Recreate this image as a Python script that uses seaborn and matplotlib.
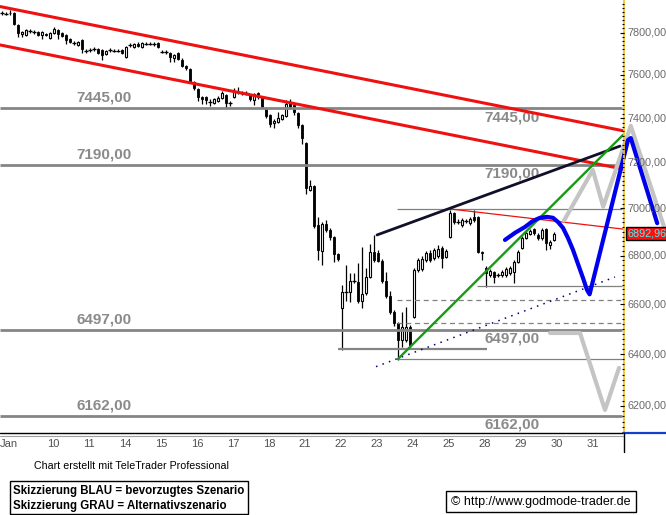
import numpy as np
import pandas as pd
import matplotlib
matplotlib.use("Agg")
import matplotlib.pyplot as plt
import matplotlib.transforms as mtransforms
from matplotlib.patches import Rectangle
from matplotlib.lines import Line2D
import seaborn as sns

# hourly candles, 9 per trading day (index 0-2 = end of Jan 8)
opens = [7895, 7890, 7895, 7895, 7837, 7794, 7789, 7808, 7803, 7803, 7789, 7794,
         7775, 7799, 7813, 7799, 7789, 7770, 7751, 7741, 7765,
         7713, 7717, 7722, 7722, 7717, 7698, 7717, 7713, 7713,
         7717, 7684, 7741, 7732, 7746, 7732, 7746, 7746, 7746,
         7751, 7708, 7708, 7703, 7679, 7703, 7670, 7642, 7628,
         7567, 7534, 7497, 7497, 7474, 7470, 7479, 7493, 7507,
         7470, 7497, 7520, 7516, 7516, 7507, 7483, 7516, 7497,
         7447, 7415, 7378, 7383, 7397, 7410, 7474, 7460, 7424,
         7369, 7288, 7080, 7098, 6930, 6820, 6934, 6908, 6878,
         6807, 6585, 6650, 6650, 6695, 6691, 6613, 6646, 6711,
         6815, 6811, 6778, 6695, 6633, 6568, 6524, 6456, 6456,
         6508, 6548, 6740, 6745, 6782, 6811, 6790, 6799, 6832,
         6795, 6878, 6981, 6942, 6930, 6947, 6938, 6964, 6964,
         6815, 6749, 6720, 6732, 6720, 6720, 6720, 6728, 6732,
         6774, 6832, 6874, 6891, 6912, 6887, 6874, 6912, 6845,
         6866]
closes = [7895, 7890, 7893, 7842, 7799, 7803, 7813, 7808, 7803, 7789, 7803, 7789,
          7799, 7818, 7794, 7784, 7765, 7756, 7751, 7756, 7722,
          7713, 7717, 7722, 7703, 7694, 7713, 7717, 7713, 7713,
          7703, 7732, 7741, 7746, 7736, 7751, 7746, 7746, 7746,
          7732, 7708, 7708, 7684, 7694, 7675, 7642, 7632, 7567,
          7539, 7497, 7488, 7483, 7474, 7488, 7493, 7516, 7470,
          7470, 7520, 7520, 7516, 7516, 7488, 7511, 7497, 7451,
          7410, 7374, 7387, 7401, 7415, 7465, 7451, 7428, 7369,
          7310, 7089, 7098, 6925, 6824, 6934, 6908, 6878, 6807,
          6786, 6650, 6650, 6695, 6695, 6613, 6642, 6711, 6815,
          6782, 6778, 6695, 6634, 6568, 6524, 6456, 6508, 6508,
          6436, 6740, 6782, 6786, 6811, 6782, 6824, 6828, 6790,
          6820, 6981, 6942, 6942, 6951, 6947, 6955, 6951, 6815,
          6811, 6728, 6736, 6711, 6720, 6732, 6745, 6749, 6774,
          6815, 6874, 6896, 6904, 6896, 6874, 6908, 6853, 6857,
          6893]
highs = [7905, 7900, 7910, 7900, 7842, 7808, 7818, 7818, 7813, 7808, 7808, 7799,
         7803, 7828, 7818, 7803, 7794, 7775, 7760, 7760, 7770,
         7722, 7727, 7732, 7727, 7722, 7717, 7727, 7722, 7722,
         7722, 7736, 7751, 7751, 7756, 7756, 7756, 7756, 7756,
         7756, 7717, 7717, 7708, 7698, 7708, 7679, 7646, 7632,
         7571, 7539, 7502, 7502, 7488, 7493, 7502, 7525, 7511,
         7479, 7539, 7544, 7525, 7525, 7511, 7516, 7520, 7502,
         7451, 7419, 7397, 7428, 7419, 7483, 7488, 7470, 7428,
         7374, 7293, 7124, 7102, 6964, 6942, 6951, 6917, 6883,
         6811, 6678, 6761, 6728, 6728, 6770, 6836, 6749, 6849,
         6887, 6824, 6786, 6732, 6654, 6576, 6528, 6568, 6589,
         6516, 6749, 6790, 6799, 6820, 6824, 6832, 6845, 6841,
         6828, 6994, 6985, 6955, 6960, 6955, 6964, 6994, 6968,
         6820, 6757, 6745, 6736, 6728, 6740, 6753, 6757, 6782,
         6824, 6883, 6904, 6912, 6917, 6896, 6917, 6917, 6866,
         6900]
lows = [7885, 7885, 7885, 7837, 7779, 7779, 7784, 7799, 7794, 7784, 7770, 7784,
        7770, 7794, 7770, 7779, 7746, 7751, 7741, 7736, 7703,
        7703, 7708, 7713, 7698, 7670, 7694, 7708, 7708, 7708,
        7698, 7679, 7732, 7727, 7732, 7727, 7741, 7741, 7736,
        7727, 7703, 7698, 7661, 7661, 7670, 7637, 7623, 7562,
        7530, 7479, 7465, 7465, 7456, 7465, 7474, 7488, 7447,
        7456, 7493, 7511, 7507, 7507, 7479, 7460, 7488, 7447,
        7401, 7360, 7356, 7378, 7392, 7406, 7442, 7415, 7356,
        7284, 7063, 7076, 6917, 6782, 6761, 6900, 6866, 6774,
        6778, 6417, 6613, 6609, 6687, 6605, 6585, 6638, 6707,
        6774, 6774, 6687, 6625, 6560, 6512, 6377, 6428, 6448,
        6428, 6544, 6732, 6736, 6774, 6774, 6782, 6790, 6749,
        6790, 6874, 6934, 6934, 6921, 6938, 6930, 6942, 6811,
        6782, 6670, 6711, 6687, 6711, 6711, 6711, 6720, 6687,
        6770, 6828, 6870, 6887, 6887, 6866, 6866, 6824, 6828,
        6862]

day_labels = ["Jan", "10", "11", "14", "15", "16", "17", "18", "21", "22",
              "23", "24", "25", "28", "29", "30", "31"]

# horizontal levels
levels_main = [7445, 7190, 6497, 6162]
level_texts = ["7445,00", "7190,00", "6497,00", "6162,00"]
thin_levels = [6998, 6674, 6380]
dashed_levels = [6617, 6525]
low_level = 6419
last_price = 6892.96

# trend lines (x in bar index, y in price)
red_upper_x, red_upper_y = [-0.5, 155.25], [7926, 7343]
red_lower_x, red_lower_y = [-0.5, 155.25], [7741, 7172]
red_thin_x, red_thin_y = [112, 155.25], [6998, 6912]
black_x, black_y = [93.75, 154.5], [6887, 7274]
green_x, green_y = [99, 155.25], [6381, 7324]
dotted_x, dotted_y = [93.5, 153.25], [6351, 6711]

# sketched scenarios
blue_x = [125.75, 128.25, 130.75, 132.75, 134.5, 136.25, 137.75, 139, 140.25,
          141.5, 142.75, 144, 145.25, 146.25, 146.9, 156.5, 157.2, 163.8]
blue_y = [6866, 6896, 6921, 6947, 6960, 6964, 6960, 6942, 6917,
          6874, 6824, 6765, 6707, 6658, 6640, 7301, 7310, 6937]
grey1_x = [140.5, 147.7, 150.3, 157.2, 165.5]
grey1_y = [6948, 7168, 7008, 7365, 6922]
grey2_x = [137, 144.5, 150.75, 154.25]
grey2_y = [6484, 6484, 6184, 6346]

ytick_vals = [7800, 7600, 7400, 7200, 7000, 6800, 6600, 6400, 6200]

sns.set_style("white")
narrow = ["Liberation Sans Narrow", "Liberation Sans", "DejaVu Sans"]
plt.rcParams["font.family"] = narrow

W, H = 666, 515
fig = plt.figure(figsize=(W / 100, H / 100), dpi=100)
ax = fig.add_axes([0, 82 / H, 1, 433 / H])
ax.set_yscale("log")
ax.set_xlim(-0.5, 166)
ax.set_ylim(6097, 7958)
ax.set_axis_off()

# candles
idx = np.arange(len(opens))
o = np.array(opens, float)
c = np.array(closes, float)
ax.vlines(idx, lows, highs, color="black", lw=0.9, zorder=2)
up = c >= o
bot = np.minimum(o, c)
hgt = np.abs(c - o)
ax.bar(idx[~up], hgt[~up], bottom=bot[~up], width=0.72, color="black",
       edgecolor="black", lw=0.6, zorder=3)
ax.bar(idx[up], hgt[up], bottom=bot[up], width=0.72, color="white",
       edgecolor="black", lw=0.8, zorder=3)
ax.hlines(c[hgt == 0], idx[hgt == 0] - 0.38, idx[hgt == 0] + 0.38,
          color="black", lw=0.9, zorder=3)

# horizontal levels
for lv in levels_main:
    ax.hlines(lv, -0.5, 155, color="#858585", lw=2.0, zorder=4)
for lv in thin_levels:
    x0 = 118.75 if lv == 6674 else 98.75
    ax.hlines(lv, x0, 155, color="#808080", lw=0.9, zorder=4)
for lv in dashed_levels:
    ax.hlines(lv, 98.75, 155, color="#808080", lw=0.9, linestyles=(0, (4, 3)), zorder=4)
ax.hlines(low_level, 84, 121.25, color="#858585", lw=1.6, zorder=4)

for lv, txt in zip(levels_main, level_texts):
    ax.annotate(txt, (25.5, lv), xytext=(0, 7.5), textcoords="offset points",
                ha="center", va="center", color="#8a8a8a", fontsize=11,
                fontweight="bold", zorder=5)
    ax.annotate(txt, (127.5, lv), xytext=(0, -6.5), textcoords="offset points",
                ha="center", va="center", color="#8a8a8a", fontsize=11,
                fontweight="bold", zorder=5)

# trend lines
ax.plot(red_upper_x, red_upper_y, color="#ee1111", lw=2.2, zorder=5)
ax.plot(red_lower_x, red_lower_y, color="#ee1111", lw=2.2, zorder=5)
ax.plot(red_thin_x, red_thin_y, color="#ee1111", lw=0.9, zorder=5)
ax.plot(dotted_x, dotted_y, color="#000080", lw=1.1, ls=(0, (1, 3.5)), zorder=5)
sns.lineplot(x=black_x, y=black_y, color="#10102a", lw=2.0, ax=ax, zorder=6)
sns.lineplot(x=green_x, y=green_y, color="#159a15", lw=1.7, ax=ax, zorder=6)

# scenarios
sns.lineplot(x=grey1_x, y=grey1_y, sort=False, estimator=None, color="#c4c4c4",
             lw=3.0, ax=ax, zorder=6)
sns.lineplot(x=grey2_x, y=grey2_y, sort=False, estimator=None, color="#c4c4c4",
             lw=3.0, ax=ax, zorder=6)
sns.lineplot(x=blue_x, y=blue_y, sort=False, estimator=None, color="#0000ee",
             lw=3.0, ax=ax, zorder=7)

# right price axis
ax.axvline(155.5, color="#f2c12e", lw=1.3, zorder=8)
minor = np.arange(6100, 7960, 20)
ax.hlines(minor, 154.9, 155.5, color="black", lw=0.8, zorder=8)
ax.hlines(ytick_vals, 154.5, 155.5, color="black", lw=0.8, zorder=8)
for v in ytick_vals:
    ax.text(156.3, v, f"{v},00", ha="left", va="center", color="#6a6a6a",
            fontsize=7.8, family=["Liberation Sans", "DejaVu Sans"], zorder=9)
ax.text(156.5, last_price, "6892,96", ha="left", va="center", color="#30ffff",
        fontsize=7.8, family=["Liberation Sans", "DejaVu Sans"], zorder=10,
        bbox=dict(boxstyle="square,pad=0.15", fc="#ff1010", ec="black", lw=1))

# bottom axis
fig.add_artist(Line2D([0, 623 / W], [1 - 433 / H] * 2, color="black", lw=1.0,
                      transform=fig.transFigure))
fig.add_artist(Line2D([0, 623 / W], [1 - 435.5 / H] * 2, color="#a0a0a0", lw=0.8,
                      transform=fig.transFigure))
fig.add_artist(Line2D([624 / W, 1], [1 - 433 / H] * 2, color="#1040d0", lw=1.6,
                      transform=fig.transFigure))
fig.add_artist(Line2D([624 / W] * 2, [1 - 433 / H, 1 - 452 / H], color="black",
                      lw=1.0, transform=fig.transFigure))

trans = mtransforms.blended_transform_factory(ax.transData, fig.transFigure)
for k, lab in enumerate(day_labels):
    if k == 0:
        ax.text(-0.5, 1 - 444 / H, lab, transform=trans, ha="left", va="center",
                fontsize=8, color="#505050")
    else:
        pos = 3 + 9 * k + 0.75
        ax.text(pos, 1 - 444 / H, lab, transform=trans, ha="center", va="center",
                fontsize=8, color="#505050")

fig.text(34 / W, 1 - 466 / H, "Chart erstellt mit TeleTrader Professional",
         ha="left", va="center", fontsize=7.7, color="black")
fig.add_artist(Rectangle((10 / W, 1 - 514 / H), 238 / W, 33 / H, fill=False,
                         ec="black", lw=1, transform=fig.transFigure))
fig.text(13 / W, 1 - 491 / H, "Skizzierung BLAU = bevorzugtes Szenario",
         ha="left", va="center", fontsize=8.3, fontweight="bold", color="black")
fig.text(13 / W, 1 - 506 / H, "Skizzierung GRAU = Alternativszenario",
         ha="left", va="center", fontsize=8.3, fontweight="bold", color="black")
fig.add_artist(Rectangle((446 / W, 1 - 512 / H), 190 / W, 21 / H, fill=False,
                         ec="black", lw=1, transform=fig.transFigure))
fig.text(541 / W, 1 - 502 / H, "\u00a9 http://www.godmode-trader.de",
         ha="center", va="center", fontsize=9, color="black")

fig.savefig("out.png", dpi=100)
